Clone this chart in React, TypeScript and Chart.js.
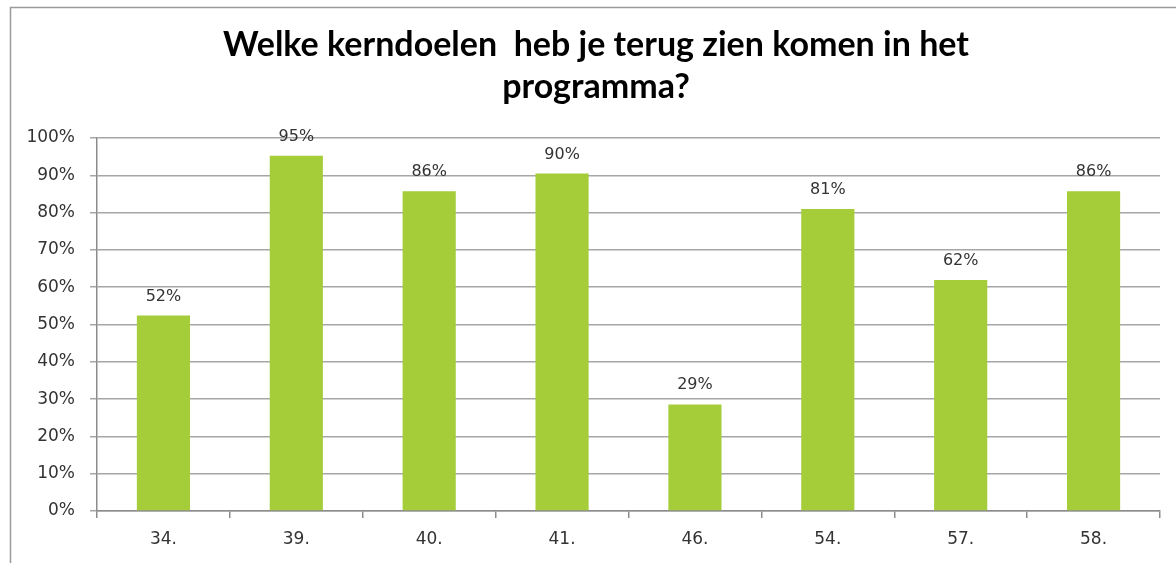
import React, { useEffect, useRef } from "react";
import { Chart, registerables } from "chart.js";

Chart.register(...registerables);

const categories: string[] = ["34.", "39.", "40.", "41.", "46.", "54.", "57.", "58."];
const percentages: number[] = [52.38, 95.24, 85.71, 90.48, 28.57, 80.95, 61.9, 85.71];
const titleLines: string[] = ["Welke kerndoelen  heb je terug zien komen in het", "programma?"];
const yTickMax = 100;
const yTickStep = 10;

const W = 1176;
const H = 563;

const borderPlugin = {
  id: "outerBorder",
  beforeDraw(chart: any) {
    const ctx = chart.ctx;
    ctx.save();
    ctx.fillStyle = "#ffffff";
    ctx.fillRect(0, 0, W, H);
    ctx.strokeStyle = "#9a9a9a";
    ctx.lineWidth = 1.5;
    ctx.strokeRect(10.5, 7.5, W + 20, H + 20);
    ctx.restore();
  },
};

const titlePlugin = {
  id: "customTitle",
  afterDraw(chart: any) {
    const ctx = chart.ctx;
    ctx.save();
    ctx.font = "bold 34px Lato";
    ctx.fillStyle = "#000000";
    ctx.textAlign = "center";
    ctx.textBaseline = "alphabetic";
    const baselines = [56, 98];
    titleLines.forEach((line, i) => {
      ctx.fillText(line, 596, baselines[i]);
    });
    ctx.restore();
  },
};

const labelPlugin = {
  id: "barLabels",
  afterDatasetsDraw(chart: any) {
    const ctx = chart.ctx;
    const meta = chart.getDatasetMeta(0);
    const data = chart.data.datasets[0].data as number[];
    ctx.save();
    ctx.font = "16px 'DejaVu Sans'";
    ctx.fillStyle = "#333333";
    ctx.textAlign = "center";
    ctx.textBaseline = "alphabetic";
    meta.data.forEach((bar: any, i: number) => {
      ctx.fillText(Math.round(data[i]) + "%", bar.x, bar.y - 15);
    });
    ctx.restore();
  },
};

export default function App() {
  const ref = useRef<HTMLCanvasElement | null>(null);
  useEffect(() => {
    if (!ref.current) return;
    const chart = new Chart(ref.current, {
      type: "bar",
      data: {
        labels: categories,
        datasets: [
          {
            data: percentages,
            backgroundColor: "#a5cd39",
            borderWidth: 0,
            barPercentage: 0.4,
            categoryPercentage: 1.0,
          },
        ],
      },
      options: {
        responsive: false,
        animation: false,
        events: [],
        layout: { padding: { top: 138, left: 10, right: 16, bottom: 0 } },
        plugins: {
          legend: { display: false },
          tooltip: { enabled: false },
          title: { display: false },
        },
        scales: {
          x: {
            afterFit: (scale: any) => {
              scale.height = 52;
            },
            grid: {
              display: true,
              drawOnChartArea: false,
              drawTicks: true,
              tickLength: 7,
              offset: true,
              color: "#8c8c8c",
              lineWidth: 1.5,
            },
            border: { display: true, color: "#8c8c8c", width: 1.5 },
            ticks: {
              color: "#333333",
              font: { family: "DejaVu Sans", size: 17 },
              padding: 11,
            },
          },
          y: {
            min: 0,
            max: yTickMax,
            afterFit: (scale: any) => {
              scale.width = 87;
            },
            grid: {
              color: "#a6a6a6",
              lineWidth: 1.5,
              tickLength: 7,
              drawTicks: true,
            },
            border: { display: true, color: "#8c8c8c", width: 1.5 },
            ticks: {
              stepSize: yTickStep,
              color: "#333333",
              font: { family: "DejaVu Sans", size: 17 },
              padding: 15,
              callback: (v: any) => v + "%",
            },
          },
        },
      },
      plugins: [borderPlugin, titlePlugin, labelPlugin],
    });
    return () => chart.destroy();
  }, []);
  return (
    <div style={{ position: "absolute", left: 0, top: 0, width: W, height: H }}>
      <canvas ref={ref} width={W} height={H} style={{ width: W, height: H, display: "block" }} />
    </div>
  );
}
